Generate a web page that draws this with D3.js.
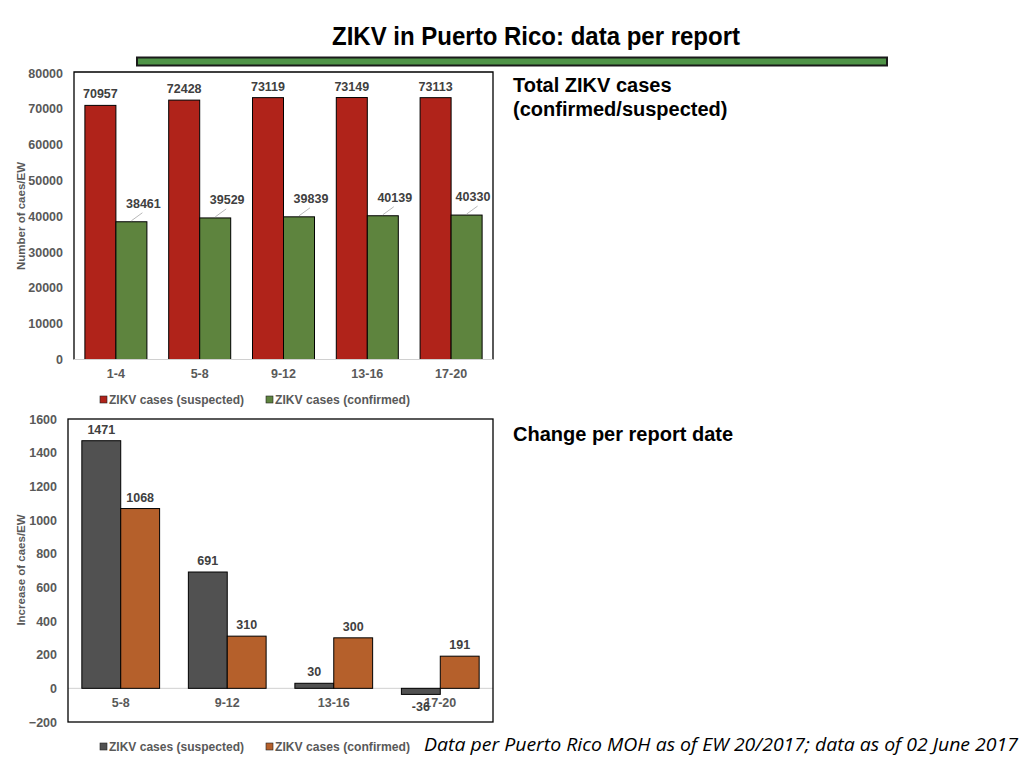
<!DOCTYPE html>
<html><head><meta charset="utf-8">
<script src="https://cdn.jsdelivr.net/npm/d3@7"></script>
<style>body{margin:0;background:#fff}svg{display:block}</style>
</head><body>
<script>
// ---- data ----
const topCategories = ["1-4","5-8","9-12","13-16","17-20"];
const topSuspected = [70957,72428,73119,73149,73113];
const topConfirmed = [38461,39529,39839,40139,40330];
const topTicks = [0,10000,20000,30000,40000,50000,60000,70000,80000];

const botCategories = ["5-8","9-12","13-16","17-20"];
const botSuspected = [1471,691,30,-36];
const botConfirmed = [1068,310,300,191];
const botTicks = [-200,0,200,400,600,800,1000,1200,1400,1600];

const seriesNames = ["ZIKV cases (suspected)","ZIKV cases (confirmed)"];

const W=1024,H=768;
const svg=d3.select("body").append("svg").attr("width",W).attr("height",H);
const FONT="Liberation Sans, Arial, sans-serif";
const LBL="#404040", AX="#595959";
const FS=12.5;

// title
svg.append("text").attr("x",536).attr("y",45).attr("text-anchor","middle")
  .attr("font-family",FONT).attr("font-weight","bold").attr("font-size",25)
  .attr("textLength",408).attr("lengthAdjust","spacingAndGlyphs")
  .text("ZIKV in Puerto Rico: data per report");
svg.append("rect").attr("x",137).attr("y",57.5).attr("width",750).attr("height",8)
  .attr("fill","#4f9447").attr("stroke","#1a1a1a").attr("stroke-width",2);

// side texts
function sideText(lines,x,y){
  const t=svg.append("text").attr("font-family",FONT).attr("font-weight","bold").attr("font-size",20).attr("fill","#000");
  lines.forEach((l,i)=>t.append("tspan").attr("x",x).attr("y",y+i*24).text(l));
}
sideText(["Total ZIKV cases","(confirmed/suspected)"],513,92);
sideText(["Change per report date"],513,441);

svg.append("text").attr("x",1018).attr("y",751).attr("text-anchor","end")
  .attr("font-family","Open Sans, Liberation Sans, sans-serif").attr("font-style","italic").attr("font-size",17.5)
  .attr("textLength",594).attr("lengthAdjust","spacingAndGlyphs")
  .text("Data per Puerto Rico MOH as of EW 20/2017; data as of 02 June 2017");

function legend(y,colors){
  const xs=[100,266];
  seriesNames.forEach((n,i)=>{
    svg.append("rect").attr("x",xs[i]).attr("y",y-4).attr("width",7).attr("height",7)
      .attr("fill",colors[i]).attr("stroke","#222").attr("stroke-width",0.6);
    svg.append("text").attr("x",xs[i]+9).attr("y",y+4).attr("font-family",FONT).attr("font-weight","bold")
      .attr("font-size",12).attr("fill",AX).attr("textLength",135).attr("lengthAdjust","spacingAndGlyphs").text(n);
  });
}

// ---- top chart ----
{
  const L=74,R=493,T=72,B=359.5;
  const x=d3.scaleBand().domain(topCategories).range([L,R]).paddingInner(0.26).paddingOuter(0.13);
  const xs=d3.scaleBand().domain([0,1]).range([0,x.bandwidth()]);
  const y=d3.scaleLinear().domain([0,80000]).range([B,T+1]);
  const colors=["#b0231a","#5e843e"];
  const g=svg.append("g");
  const ya=g.append("g").attr("transform",`translate(${L},0)`).call(d3.axisLeft(y).tickValues(topTicks).tickSize(0).tickPadding(11).tickFormat(d3.format("d")));
  ya.select(".domain").remove();
  ya.selectAll("text").attr("font-family",FONT).attr("font-weight","bold").attr("font-size",FS).attr("fill",AX);
  const data=topCategories.map((c,i)=>({c,v:[topSuspected[i],topConfirmed[i]]}));
  data.forEach(d=>{
    d.v.forEach((v,j)=>{
      g.append("rect").attr("x",x(d.c)+xs(j)).attr("y",y(v)).attr("width",xs.bandwidth()).attr("height",y(0)-y(v))
        .attr("fill",colors[j]).attr("stroke","#000").attr("stroke-width",1);
    });
    const cx0=x(d.c)+xs(0)+xs.bandwidth()/2;
    g.append("text").attr("x",cx0).attr("y",y(d.v[0])-7).attr("text-anchor","middle")
      .attr("font-family",FONT).attr("font-weight","bold").attr("font-size",FS).attr("fill",LBL).text(d.v[0]);
    const cx1=x(d.c)+xs(1)+xs.bandwidth()/2;
    const lx=Math.min(cx1+12,R-20);
    const ty=y(d.v[1]);
    g.append("line").attr("x1",cx1).attr("y1",ty-1).attr("x2",cx1+11).attr("y2",ty-9).attr("stroke","#a6a6a6").attr("stroke-width",0.8);
    g.append("text").attr("x",lx).attr("y",ty-14).attr("text-anchor","middle")
      .attr("font-family",FONT).attr("font-weight","bold").attr("font-size",FS).attr("fill",LBL).text(d.v[1]);
  });
  g.append("path").attr("d",`M${L},${B}V${T}H${R}V${B}`).attr("fill","none").attr("stroke","#000").attr("stroke-width",1.3);
  g.append("line").attr("x1",L).attr("x2",R).attr("y1",y(0)).attr("y2",y(0)).attr("stroke","#d0d0d0").attr("stroke-width",1);
  const xa=g.append("g").attr("transform",`translate(0,${B})`).call(d3.axisBottom(x).tickSize(0).tickPadding(10));
  xa.select(".domain").remove();
  xa.selectAll("text").attr("font-family",FONT).attr("font-weight","bold").attr("font-size",FS).attr("fill",AX);
  svg.append("text").attr("transform","translate(25,216) rotate(-90)").attr("text-anchor","middle")
    .attr("font-family",FONT).attr("font-weight","bold").attr("font-size",11.5).attr("fill",AX).text("Number of caes/EW");
  legend(400,colors);
}

// ---- bottom chart ----
{
  const L=68,R=493,T=419,B=722;
  const x=d3.scaleBand().domain(botCategories).range([L,R]).paddingInner(0.27).paddingOuter(0.13);
  const xs=d3.scaleBand().domain([0,1]).range([0,x.bandwidth()]);
  const y=d3.scaleLinear().domain([-200,1600]).range([B,T]);
  const colors=["#515151","#b5602b"];
  const g=svg.append("g");
  const ya=g.append("g").attr("transform",`translate(${L},0)`).call(d3.axisLeft(y).tickValues(botTicks).tickSize(0).tickPadding(11).tickFormat(d3.format("d")));
  ya.select(".domain").remove();
  ya.selectAll("text").attr("font-family",FONT).attr("font-weight","bold").attr("font-size",FS).attr("fill",AX);
  g.append("line").attr("x1",L).attr("x2",R).attr("y1",y(0)).attr("y2",y(0)).attr("stroke","#d0d0d0").attr("stroke-width",1);
  const data=botCategories.map((c,i)=>({c,v:[botSuspected[i],botConfirmed[i]]}));
  data.forEach(d=>{
    d.v.forEach((v,j)=>{
      const y0=Math.min(y(v),y(0)), h=Math.abs(y(v)-y(0));
      g.append("rect").attr("x",x(d.c)+xs(j)).attr("y",y0).attr("width",xs.bandwidth()).attr("height",h)
        .attr("fill",colors[j]).attr("stroke","#000").attr("stroke-width",1);
    });
  });
  const xa=g.append("g").attr("transform",`translate(0,${y(0)})`).call(d3.axisBottom(x).tickSize(0).tickPadding(10));
  xa.select(".domain").remove();
  xa.selectAll("text").attr("font-family",FONT).attr("font-weight","bold").attr("font-size",FS).attr("fill",AX);
  data.forEach(d=>{
    d.v.forEach((v,j)=>{
      const cx=x(d.c)+xs(j)+xs.bandwidth()/2;
      const ly = v>=0 ? y(v)-7 : y(v)+17;
      g.append("text").attr("x",cx).attr("y",ly).attr("text-anchor","middle")
        .attr("font-family",FONT).attr("font-weight","bold").attr("font-size",FS).attr("fill",LBL).text(v);
    });
  });
  g.append("rect").attr("x",L).attr("y",T).attr("width",R-L).attr("height",B-T).attr("fill","none").attr("stroke","#000").attr("stroke-width",1.3);
  svg.append("text").attr("transform","translate(25,570) rotate(-90)").attr("text-anchor","middle")
    .attr("font-family",FONT).attr("font-weight","bold").attr("font-size",11.5).attr("fill",AX).text("Increase of caes/EW");
  legend(747,colors);
}
</script>
</body></html>
